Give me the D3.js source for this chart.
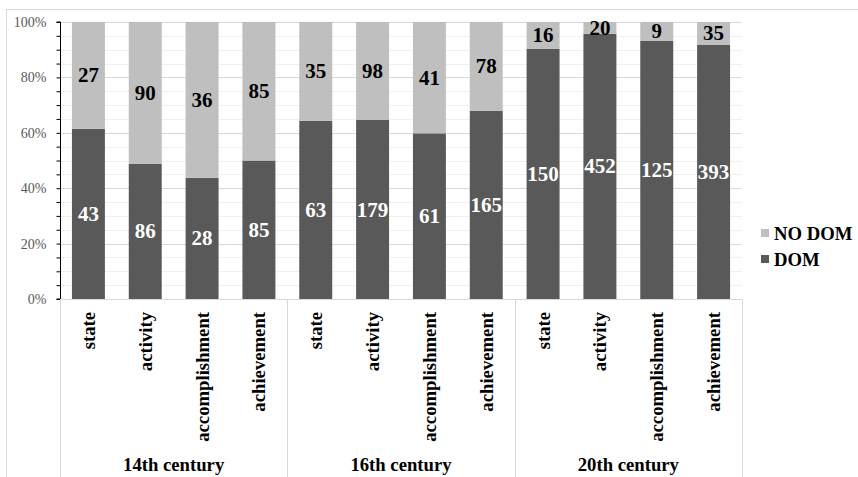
<!DOCTYPE html>
<html>
<head>
<meta charset="utf-8">
<script src="https://cdn.jsdelivr.net/npm/d3@7"></script>
<style>
  html, body { margin: 0; padding: 0; background: #fff; }
  svg { display: block; }
</style>
</head>
<body>
<svg id="chart" width="858" height="477"></svg>
<script>
// Periods and aspect classes
const groups = ["14th century", "16th century", "20th century"];
const categories = ["state", "activity", "accomplishment", "achievement"];
const seriesNames = ["DOM", "NO DOM"];

// Counts per period, in category order
const domValues = [
  [43, 86, 28, 85],
  [63, 179, 61, 165],
  [150, 452, 125, 393]
];
const noDomValues = [
  [27, 90, 36, 85],
  [35, 98, 41, 78],
  [16, 20, 9, 35]
];

const yTickValues = d3.range(0, 21).map(i => i / 20);

const colors = { "DOM": "#595959", "NO DOM": "#bfbfbf" };
const labelColors = { "DOM": "#ffffff", "NO DOM": "#000000" };
const FONT = '"Liberation Serif", "Times New Roman", serif';

// Flatten into one row per bar
const rows = [];
groups.forEach((g, gi) => {
  categories.forEach((c, ci) => {
    rows.push({ key: g + "|" + c, group: g, category: c,
      "DOM": domValues[gi][ci], "NO DOM": noDomValues[gi][ci] });
  });
});

const svg = d3.select("#chart");
const W = 858, H = 477;
const plot = { left: 60, right: 742, top: 22, bottom: 299 };
const grid = "#d9d9d9";

// Outer frame
svg.append("line").attr("x1", 6.5).attr("x2", W).attr("y1", 9.5).attr("y2", 9.5)
  .attr("stroke", grid);
svg.append("line").attr("x1", 6.5).attr("x2", 6.5).attr("y1", 9.5).attr("y2", H)
  .attr("stroke", grid);

const x = d3.scaleBand()
  .domain(rows.map(d => d.key))
  .range([plot.left, plot.right])
  .paddingInner(0.42)
  .paddingOuter(0.21);

const y = d3.scaleLinear().domain([0, 1]).range([plot.bottom, plot.top]);

// Gridlines
svg.append("g").selectAll("line")
  .data(yTickValues.filter(v => v > 0))
  .join("line")
  .attr("x1", plot.left).attr("x2", plot.right)
  .attr("y1", d => Math.round(y(d)) + 0.5).attr("y2", d => Math.round(y(d)) + 0.5)
  .attr("stroke", d => Math.round(d * 100) % 20 === 0 ? "#d9d9d9" : "#f0f0f0")
  .attr("stroke-width", 1);

// Stacked 100% bars
const stack = d3.stack().keys(seriesNames).offset(d3.stackOffsetExpand);
const series = stack(rows);

const layers = svg.append("g").selectAll("g")
  .data(series)
  .join("g")
  .attr("fill", s => colors[s.key]);

layers.selectAll("rect")
  .data(s => s.map(d => Object.assign(d, { series: s.key })))
  .join("rect")
  .attr("x", d => x(d.data.key))
  .attr("width", x.bandwidth())
  .attr("y", d => y(d[1]))
  .attr("height", d => y(d[0]) - y(d[1]));

// Value labels centred in each segment
layers.selectAll("text")
  .data(s => s)
  .join("text")
  .attr("x", d => x(d.data.key) + x.bandwidth() / 2)
  .attr("y", d => (y(d[0]) + y(d[1])) / 2)
  .attr("text-anchor", "middle")
  .attr("dominant-baseline", "central")
  .attr("font-size", 21)
  .attr("font-weight", "bold")
  .attr("fill", d => labelColors[d.series])
  .text(d => d.data[d.series]);

// Y axis
const yAxis = d3.axisLeft(y)
  .tickValues(yTickValues)
  .tickSize(4)
  .tickPadding(10)
  .tickFormat(d => Math.round(d * 100) % 20 === 0 ? d3.format(".0%")(d) : "");

const yG = svg.append("g")
  .attr("transform", `translate(${plot.left + 0.5},0)`)
  .call(yAxis);
yG.select(".domain").attr("stroke", "#000").attr("d", `M-4,${plot.top}H0V${plot.bottom}H-4`);
yG.selectAll(".tick line").attr("stroke", "#000");
yG.selectAll(".tick text")
  .attr("font-size", 14)
  .attr("fill", "#595959");

// Category axis baseline
svg.append("line")
  .attr("x1", plot.left).attr("x2", plot.right)
  .attr("y1", plot.bottom + 0.5).attr("y2", plot.bottom + 0.5)
  .attr("stroke", grid);

// Group separators
const groupWidth = (plot.right - plot.left) / groups.length;
svg.append("g").selectAll("line")
  .data(d3.range(groups.length + 1))
  .join("line")
  .attr("x1", i => Math.round(plot.left + i * groupWidth) + 0.5)
  .attr("x2", i => Math.round(plot.left + i * groupWidth) + 0.5)
  .attr("y1", plot.bottom)
  .attr("y2", H)
  .attr("stroke", grid);

// Rotated category labels
svg.append("g").selectAll("text")
  .data(rows)
  .join("text")
  .attr("transform", d => `translate(${x(d.key) + x.bandwidth() / 2},312) rotate(-90)`)
  .attr("text-anchor", "end")
  .attr("dominant-baseline", "central")
  .attr("font-size", 18.7)
  .attr("font-weight", "bold")
  .attr("fill", "#000")
  .text(d => d.category);

// Group labels
svg.append("g").selectAll("text")
  .data(groups)
  .join("text")
  .attr("x", (g, i) => plot.left + (i + 0.5) * groupWidth)
  .attr("y", 471)
  .attr("text-anchor", "middle")
  .attr("font-size", 18.7)
  .attr("font-weight", "bold")
  .attr("fill", "#000")
  .text(g => g);

// Legend (top series listed first)
const legend = svg.append("g").selectAll("g")
  .data(seriesNames.slice().reverse())
  .join("g")
  .attr("transform", (d, i) => `translate(761,${229 + i * 26})`);
legend.append("rect")
  .attr("width", 8).attr("height", 8)
  .attr("fill", d => colors[d]);
legend.append("text")
  .attr("x", 13).attr("y", 4)
  .attr("dominant-baseline", "central")
  .attr("font-size", 18.7)
  .attr("font-weight", "bold")
  .attr("fill", "#000")
  .text(d => d);

// Serif face for every label
svg.selectAll("text").style("font-family", FONT);
</script>
</body>
</html>
